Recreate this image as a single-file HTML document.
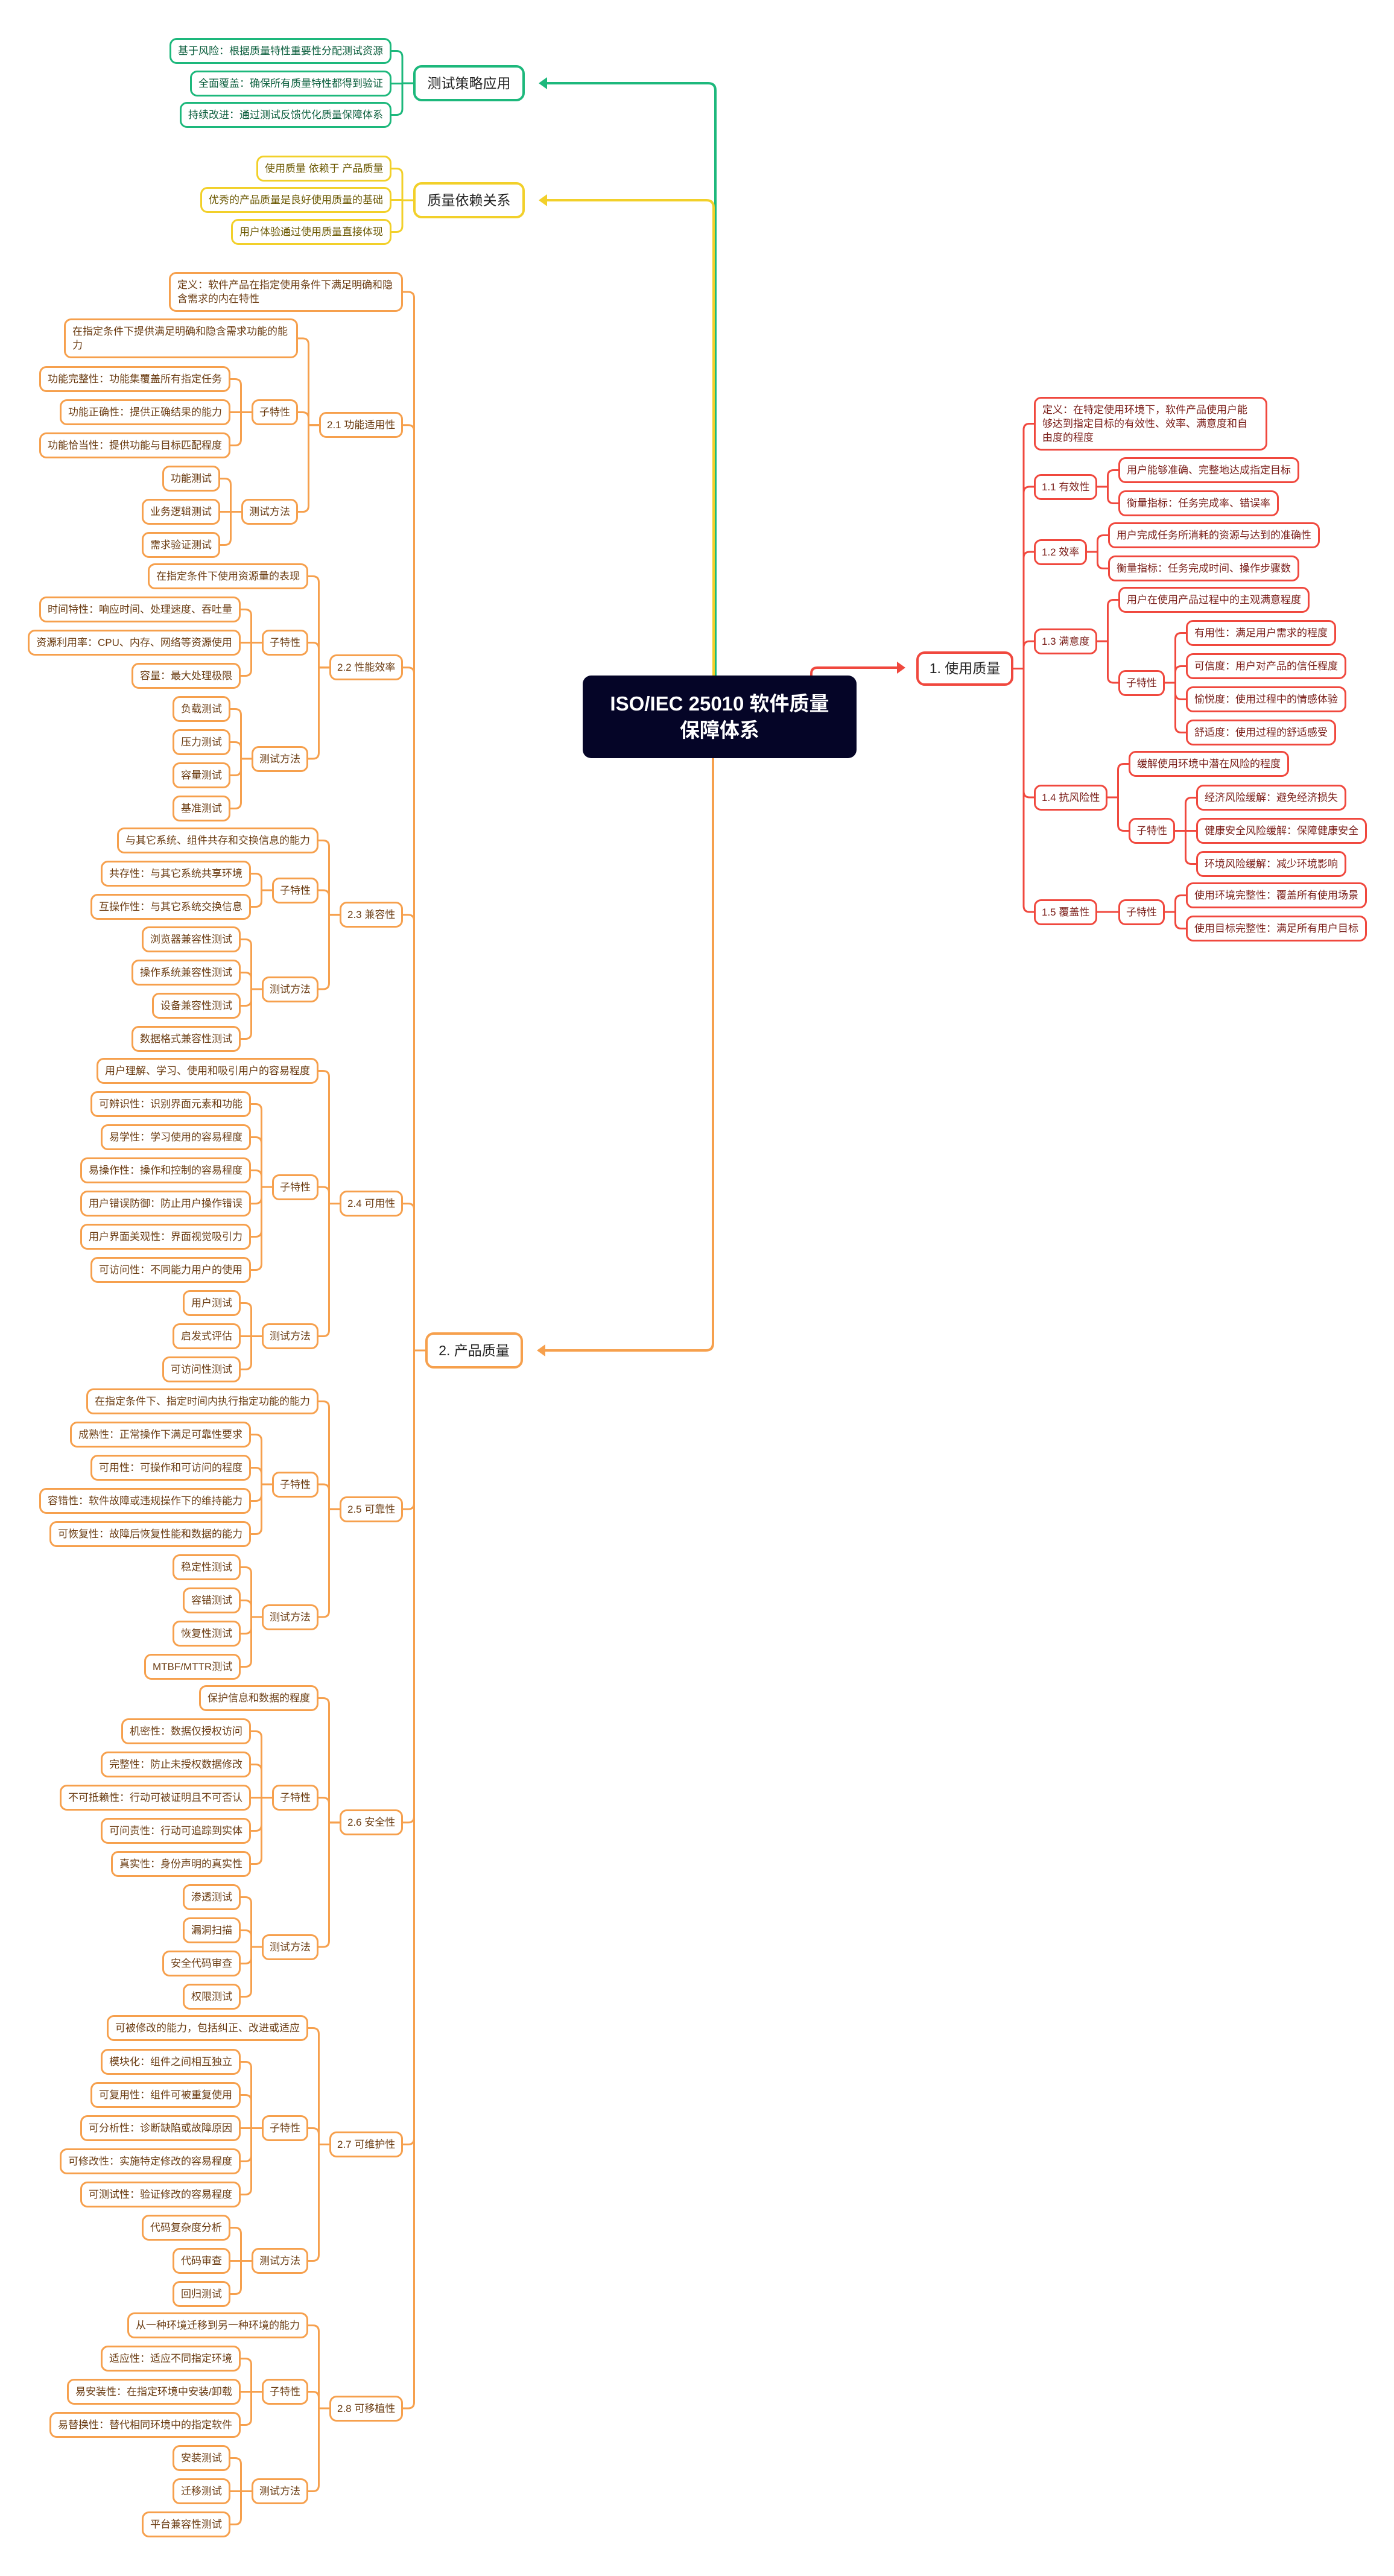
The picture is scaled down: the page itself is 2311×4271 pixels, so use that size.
<!DOCTYPE html>
<html><head><meta charset="utf-8">
<style>
html,body{margin:0;padding:0;background:#fff;}
body{width:2311px;height:4271px;position:relative;overflow:hidden;font-family:"Liberation Sans","Noto Sans CJK SC",sans-serif;}
svg#cv{position:absolute;left:0;top:0;z-index:0;}
.n{position:absolute;box-sizing:border-box;border:3px solid;border-radius:12px;background:#fff;padding:7px 11px;font-size:17px;line-height:23px;white-space:nowrap;z-index:1;}
.n.w{white-space:normal;}
.n.s{padding:7px 10px;}
.n.big{border-width:4px;border-radius:14px;font-size:23px;color:#222;display:flex;align-items:center;justify-content:center;padding:0;}
.o .n{border-color:#F6A04D;color:#6b3c12;}
.r .n{border-color:#F0483E;color:#7a1d18;}
.g .n{border-color:#1DB87C;color:#0b5e3d;}
.y .n{border-color:#F2D02A;color:#6b5800;}
.n.big{color:#222 !important;}
#center{position:absolute;left:966px;top:1120px;width:454px;height:137px;background:#050527;border-radius:14px;color:#fff;font-weight:bold;font-size:33px;line-height:44px;text-align:center;display:flex;align-items:center;justify-content:center;z-index:1;}
</style></head><body>
<svg id="cv" width="2311" height="4271" xmlns="http://www.w3.org/2000/svg">
<g fill="none" stroke-width="4" stroke-linejoin="round">
<path d="M1186,1122 V150 Q1186,138 1174,138 H905" stroke="#1DB87C"/>
<path d="M1183,1122 V344 Q1183,332 1171,332 H905" stroke="#F2D02A"/>
<path d="M1182,1255 V2227 Q1182,2239 1170,2239 H902" stroke="#F6A04D"/>
<path d="M1345,1124 V1117 Q1345,1107 1355,1107 H1488" stroke="#F0483E"/>
</g>
<polygon points="893,138 907,128 907,148" fill="#1DB87C"/>
<polygon points="893,332 907,322 907,342" fill="#F2D02A"/>
<polygon points="890,2239 904,2229 904,2249" fill="#F6A04D"/>
<polygon points="1501,1107 1487,1097 1487,1117" fill="#F0483E"/>
</svg>

<div id="center"><div>ISO/IEC 25010 软件质量<br>保障体系</div></div>

<!-- green -->
<div class="i g root" id="tG"><div class="n big" style="left:685px;top:108px;width:185px;height:60px">测试策略应用</div><div class="k">
<div class="i"><div class="n" style="top:63px">基于风险：根据质量特性重要性分配测试资源</div></div>
<div class="i"><div class="n" style="top:117px">全面覆盖：确保所有质量特性都得到验证</div></div>
<div class="i"><div class="n" style="top:169px">持续改进：通过测试反馈优化质量保障体系</div></div>
</div></div>

<!-- yellow -->
<div class="i y root" id="tY"><div class="n big" style="left:685px;top:302px;width:185px;height:60px">质量依赖关系</div><div class="k">
<div class="i"><div class="n" style="top:258px">使用质量 依赖于 产品质量</div></div>
<div class="i"><div class="n" style="top:310px">优秀的产品质量是良好使用质量的基础</div></div>
<div class="i"><div class="n" style="top:363px">用户体验通过使用质量直接体现</div></div>
</div></div>

<!-- red -->
<div class="i r root" id="tR"><div class="n big" style="left:1519px;top:1080px;width:161px;height:57px">1. 使用质量</div><div class="k">
<div class="i"><div class="n w" style="top:658px;width:387px;padding-right:26px">定义：在特定使用环境下，软件产品使用户能够达到指定目标的有效性、效率、满意度和自由度的程度</div></div>
<div class="i"><div class="n s">1.1 有效性</div><div class="k">
 <div class="i"><div class="n" style="top:758px">用户能够准确、完整地达成指定目标</div></div>
 <div class="i"><div class="n" style="top:813px">衡量指标：任务完成率、错误率</div></div>
</div></div>
<div class="i"><div class="n s">1.2 效率</div><div class="k">
 <div class="i"><div class="n" style="top:866px">用户完成任务所消耗的资源与达到的准确性</div></div>
 <div class="i"><div class="n" style="top:921px">衡量指标：任务完成时间、操作步骤数</div></div>
</div></div>
<div class="i"><div class="n s">1.3 满意度</div><div class="k">
 <div class="i"><div class="n" style="top:973px">用户在使用产品过程中的主观满意程度</div></div>
 <div class="i"><div class="n s">子特性</div><div class="k">
  <div class="i"><div class="n" style="top:1028px">有用性：满足用户需求的程度</div></div>
  <div class="i"><div class="n" style="top:1083px">可信度：用户对产品的信任程度</div></div>
  <div class="i"><div class="n" style="top:1138px">愉悦度：使用过程中的情感体验</div></div>
  <div class="i"><div class="n" style="top:1193px">舒适度：使用过程的舒适感受</div></div>
 </div></div>
</div></div>
<div class="i"><div class="n s">1.4 抗风险性</div><div class="k">
 <div class="i"><div class="n" style="top:1245px">缓解使用环境中潜在风险的程度</div></div>
 <div class="i"><div class="n s">子特性</div><div class="k">
  <div class="i"><div class="n" style="top:1301px">经济风险缓解：避免经济损失</div></div>
  <div class="i"><div class="n" style="top:1356px">健康安全风险缓解：保障健康安全</div></div>
  <div class="i"><div class="n" style="top:1411px">环境风险缓解：减少环境影响</div></div>
 </div></div>
</div></div>
<div class="i"><div class="n s">1.5 覆盖性</div><div class="k">
 <div class="i"><div class="n s">子特性</div><div class="k">
  <div class="i"><div class="n" style="top:1463px">使用环境完整性：覆盖所有使用场景</div></div>
  <div class="i"><div class="n" style="top:1518px">使用目标完整性：满足所有用户目标</div></div>
 </div></div>
</div></div>
</div></div>

<!-- orange -->
<div class="i o root" id="tP"><div class="n big" style="left:705px;top:2209px;width:162px;height:60px">2. 产品质量</div><div class="k">
<div class="i"><div class="n w" style="top:451px;width:388px">定义：软件产品在指定使用条件下满足明确和隐含需求的内在特性</div></div>
<div class="i"><div class="n s">2.1 功能适用性</div><div class="k">
 <div class="i"><div class="n w" style="top:528px;width:388px">在指定条件下提供满足明确和隐含需求功能的能力</div></div>
 <div class="i"><div class="n s">子特性</div><div class="k">
  <div class="i"><div class="n" style="top:607px">功能完整性：功能集覆盖所有指定任务</div></div>
  <div class="i"><div class="n" style="top:662px">功能正确性：提供正确结果的能力</div></div>
  <div class="i"><div class="n" style="top:717px">功能恰当性：提供功能与目标匹配程度</div></div>
 </div></div>
 <div class="i"><div class="n s">测试方法</div><div class="k">
  <div class="i"><div class="n" style="top:772px">功能测试</div></div>
  <div class="i"><div class="n" style="top:827px">业务逻辑测试</div></div>
  <div class="i"><div class="n" style="top:882px">需求验证测试</div></div>
 </div></div>
</div></div>
<div class="i"><div class="n s">2.2 性能效率</div><div class="k">
 <div class="i"><div class="n" style="top:934px">在指定条件下使用资源量的表现</div></div>
 <div class="i"><div class="n s">子特性</div><div class="k">
  <div class="i"><div class="n" style="top:989px">时间特性：响应时间、处理速度、吞吐量</div></div>
  <div class="i"><div class="n" style="top:1044px">资源利用率：CPU、内存、网络等资源使用</div></div>
  <div class="i"><div class="n" style="top:1099px">容量：最大处理极限</div></div>
 </div></div>
 <div class="i"><div class="n s">测试方法</div><div class="k">
  <div class="i"><div class="n" style="top:1154px">负载测试</div></div>
  <div class="i"><div class="n" style="top:1209px">压力测试</div></div>
  <div class="i"><div class="n" style="top:1264px">容量测试</div></div>
  <div class="i"><div class="n" style="top:1319px">基准测试</div></div>
 </div></div>
</div></div>
<div class="i"><div class="n s">2.3 兼容性</div><div class="k">
 <div class="i"><div class="n" style="top:1372px">与其它系统、组件共存和交换信息的能力</div></div>
 <div class="i"><div class="n s">子特性</div><div class="k">
  <div class="i"><div class="n" style="top:1427px">共存性：与其它系统共享环境</div></div>
  <div class="i"><div class="n" style="top:1482px">互操作性：与其它系统交换信息</div></div>
 </div></div>
 <div class="i"><div class="n s">测试方法</div><div class="k">
  <div class="i"><div class="n" style="top:1536px">浏览器兼容性测试</div></div>
  <div class="i"><div class="n" style="top:1591px">操作系统兼容性测试</div></div>
  <div class="i"><div class="n" style="top:1646px">设备兼容性测试</div></div>
  <div class="i"><div class="n" style="top:1701px">数据格式兼容性测试</div></div>
 </div></div>
</div></div>
<div class="i"><div class="n s">2.4 可用性</div><div class="k">
 <div class="i"><div class="n" style="top:1754px">用户理解、学习、使用和吸引用户的容易程度</div></div>
 <div class="i"><div class="n s">子特性</div><div class="k">
  <div class="i"><div class="n" style="top:1809px">可辨识性：识别界面元素和功能</div></div>
  <div class="i"><div class="n" style="top:1864px">易学性：学习使用的容易程度</div></div>
  <div class="i"><div class="n" style="top:1919px">易操作性：操作和控制的容易程度</div></div>
  <div class="i"><div class="n" style="top:1974px">用户错误防御：防止用户操作错误</div></div>
  <div class="i"><div class="n" style="top:2029px">用户界面美观性：界面视觉吸引力</div></div>
  <div class="i"><div class="n" style="top:2084px">可访问性：不同能力用户的使用</div></div>
 </div></div>
 <div class="i"><div class="n s">测试方法</div><div class="k">
  <div class="i"><div class="n" style="top:2139px">用户测试</div></div>
  <div class="i"><div class="n" style="top:2194px">启发式评估</div></div>
  <div class="i"><div class="n" style="top:2249px">可访问性测试</div></div>
 </div></div>
</div></div>
<div class="i"><div class="n s">2.5 可靠性</div><div class="k">
 <div class="i"><div class="n" style="top:2302px">在指定条件下、指定时间内执行指定功能的能力</div></div>
 <div class="i"><div class="n s">子特性</div><div class="k">
  <div class="i"><div class="n" style="top:2357px">成熟性：正常操作下满足可靠性要求</div></div>
  <div class="i"><div class="n" style="top:2412px">可用性：可操作和可访问的程度</div></div>
  <div class="i"><div class="n" style="top:2467px">容错性：软件故障或违规操作下的维持能力</div></div>
  <div class="i"><div class="n" style="top:2522px">可恢复性：故障后恢复性能和数据的能力</div></div>
 </div></div>
 <div class="i"><div class="n s">测试方法</div><div class="k">
  <div class="i"><div class="n" style="top:2577px">稳定性测试</div></div>
  <div class="i"><div class="n" style="top:2632px">容错测试</div></div>
  <div class="i"><div class="n" style="top:2687px">恢复性测试</div></div>
  <div class="i"><div class="n" style="top:2742px">MTBF/MTTR测试</div></div>
 </div></div>
</div></div>
<div class="i"><div class="n s">2.6 安全性</div><div class="k">
 <div class="i"><div class="n" style="top:2794px">保护信息和数据的程度</div></div>
 <div class="i"><div class="n s">子特性</div><div class="k">
  <div class="i"><div class="n" style="top:2849px">机密性：数据仅授权访问</div></div>
  <div class="i"><div class="n" style="top:2904px">完整性：防止未授权数据修改</div></div>
  <div class="i"><div class="n" style="top:2959px">不可抵赖性：行动可被证明且不可否认</div></div>
  <div class="i"><div class="n" style="top:3014px">可问责性：行动可追踪到实体</div></div>
  <div class="i"><div class="n" style="top:3069px">真实性：身份声明的真实性</div></div>
 </div></div>
 <div class="i"><div class="n s">测试方法</div><div class="k">
  <div class="i"><div class="n" style="top:3124px">渗透测试</div></div>
  <div class="i"><div class="n" style="top:3179px">漏洞扫描</div></div>
  <div class="i"><div class="n" style="top:3234px">安全代码审查</div></div>
  <div class="i"><div class="n" style="top:3289px">权限测试</div></div>
 </div></div>
</div></div>
<div class="i"><div class="n s">2.7 可维护性</div><div class="k">
 <div class="i"><div class="n" style="top:3341px">可被修改的能力，包括纠正、改进或适应</div></div>
 <div class="i"><div class="n s">子特性</div><div class="k">
  <div class="i"><div class="n" style="top:3397px">模块化：组件之间相互独立</div></div>
  <div class="i"><div class="n" style="top:3452px">可复用性：组件可被重复使用</div></div>
  <div class="i"><div class="n" style="top:3507px">可分析性：诊断缺陷或故障原因</div></div>
  <div class="i"><div class="n" style="top:3562px">可修改性：实施特定修改的容易程度</div></div>
  <div class="i"><div class="n" style="top:3617px">可测试性：验证修改的容易程度</div></div>
 </div></div>
 <div class="i"><div class="n s">测试方法</div><div class="k">
  <div class="i"><div class="n" style="top:3672px">代码复杂度分析</div></div>
  <div class="i"><div class="n" style="top:3727px">代码审查</div></div>
  <div class="i"><div class="n" style="top:3782px">回归测试</div></div>
 </div></div>
</div></div>
<div class="i"><div class="n s">2.8 可移植性</div><div class="k">
 <div class="i"><div class="n" style="top:3834px">从一种环境迁移到另一种环境的能力</div></div>
 <div class="i"><div class="n s">子特性</div><div class="k">
  <div class="i"><div class="n" style="top:3889px">适应性：适应不同指定环境</div></div>
  <div class="i"><div class="n" style="top:3944px">易安装性：在指定环境中安装/卸载</div></div>
  <div class="i"><div class="n" style="top:3999px">易替换性：替代相同环境中的指定软件</div></div>
 </div></div>
 <div class="i"><div class="n s">测试方法</div><div class="k">
  <div class="i"><div class="n" style="top:4054px">安装测试</div></div>
  <div class="i"><div class="n" style="top:4109px">迁移测试</div></div>
  <div class="i"><div class="n" style="top:4164px">平台兼容性测试</div></div>
 </div></div>
</div></div>
</div></div>

<script>
(function(){
var svg=document.getElementById('cv');var NS='http://www.w3.org/2000/svg';var R=10;
function path(d,c){var p=document.createElementNS(NS,'path');p.setAttribute('d',d);p.setAttribute('fill','none');p.setAttribute('stroke',c);p.setAttribute('stroke-width','3');p.setAttribute('stroke-linejoin','round');svg.appendChild(p);}
function kidsOf(item){var k=null;for(var i=0;i<item.children.length;i++){if(item.children[i].classList.contains('k'))k=item.children[i];}return k?Array.prototype.slice.call(k.children):[];}
function nodeOf(item){for(var i=0;i<item.children.length;i++){if(item.children[i].classList.contains('n'))return item.children[i];}}
function connect(edge,cy,dir,gap,cs,color){
  var bx=edge+dir*gap/2,ce=edge+dir*gap;
  cs.forEach(function(c){
    var d='M'+edge+','+cy+' H'+bx;
    if(Math.abs(c-cy)>1.5){var s=c>cy?1:-1;d+=' V'+(c-s*R)+' Q'+bx+','+c+' '+(bx+dir*R)+','+c+' H'+ce;}
    else{d+=' V'+c+' H'+ce;}
    path(d,color);
  });
}
function proc(item,anchor,dir,color){
  var n=nodeOf(item);var w=n.offsetWidth,h=n.offsetHeight;
  var left=dir<0?anchor-w:anchor;n.style.left=left+'px';
  var kids=kidsOf(item);var cy;
  if(kids.length){
    var edge=dir<0?left:left+w;
    var cs=kids.map(function(k){return proc(k,edge+dir*35,dir,color);});
    cy=(cs[0]+cs[cs.length-1])/2;n.style.top=(cy-h/2)+'px';
    connect(edge,cy,dir,35,cs,color);
  }else{cy=parseFloat(n.style.top)+h/2;}
  return cy;
}
function root(id,dir,gap,color){
  var item=document.getElementById(id);var n=nodeOf(item);
  var left=parseFloat(n.style.left),top=parseFloat(n.style.top),w=parseFloat(n.style.width),h=parseFloat(n.style.height);
  var edge=dir<0?left:left+w;var cy=top+h/2;
  var cs=kidsOf(item).map(function(k){return proc(k,edge+dir*gap,dir,color);});
  connect(edge,cy,dir,gap,cs,color);
}
root('tG',-1,36,'#1DB87C');
root('tY',-1,36,'#F2D02A');
root('tR',1,34,'#F0483E');
root('tP',-1,37,'#F6A04D');
})();
</script>
</body></html>
